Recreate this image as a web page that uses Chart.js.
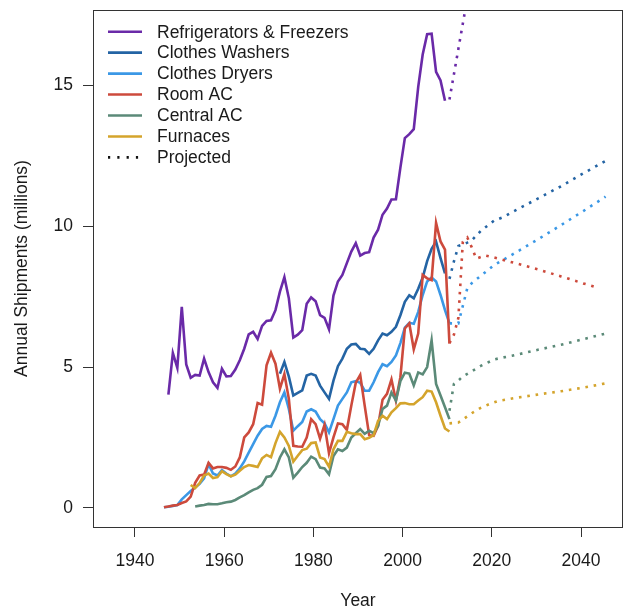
<!DOCTYPE html>
<html lang="en">
<head>
<meta charset="UTF-8">
<title>Appliance Shipments</title>
<script src="https://cdn.jsdelivr.net/npm/chart.js"></script>
<style>
  body { margin: 0; background: #fff; }
  #wrap { width: 624px; height: 614px; }
</style>
</head>
<body>
<div id="wrap"><canvas id="shipChart" width="624" height="614"></canvas></div>
<script>
// annual shipments in millions of units, one value per year from the start year
const refrigStart = 1947;
const refrig = [4.02, 5.5, 4.97, 7.14, 5.09, 4.62, 4.72, 4.7, 5.3, 4.82,
  4.46, 4.26, 4.94, 4.67, 4.68, 4.91, 5.24, 5.65, 6.16, 6.25,
  6.0, 6.46, 6.64, 6.66, 7.02, 7.68, 8.19, 7.44, 6.05, 6.15,
  6.31, 7.25, 7.47, 7.34, 6.84, 6.75, 6.34, 7.54, 8.04, 8.27,
  8.69, 9.1, 9.4, 8.96, 9.05, 9.08, 9.6, 9.88, 10.41, 10.63,
  10.95, 10.96, 12.08, 13.13, 13.27, 13.45, 14.95, 16.1, 16.82, 16.84,
  15.48, 15.18, 14.46];

const washersStart = 1972;
const washers = [4.76, 5.18, 4.66, 3.99, 4.08, 4.17, 4.7, 4.76, 4.7, 4.34,
  4.1, 3.87, 4.52, 5.03, 5.3, 5.65, 5.8, 5.82, 5.65, 5.63,
  5.47, 5.65, 5.95, 6.19, 6.13, 6.25, 6.43, 6.84, 7.32, 7.55,
  7.44, 7.78, 8.18, 8.76, 9.2, 9.45, 8.87, 8.33];

const dryersStart = 1946;
const dryers = [0.02, 0.04, 0.07, 0.1, 0.3, 0.45, 0.6, 0.72, 0.85, 1.05,
  1.55, 1.22, 1.15, 1.34, 1.22, 1.12, 1.22, 1.4, 1.65, 1.96,
  2.26, 2.56, 2.8, 2.91, 2.88, 3.27, 3.75, 4.1, 3.51, 2.74,
  2.9, 3.05, 3.42, 3.5, 3.42, 3.15, 3.0, 2.68, 3.15, 3.63,
  3.87, 4.1, 4.46, 4.5, 4.44, 4.16, 4.16, 4.46, 4.82, 5.1,
  5.03, 5.18, 5.41, 5.85, 6.4, 6.57, 6.54, 6.96, 7.56, 8.04,
  8.18, 8.04, 7.56, 7.02, 6.55];

const roomAcStart = 1946;
const roomAc = [0.02, 0.05, 0.08, 0.1, 0.17, 0.23, 0.4, 0.89, 1.15, 1.18,
  1.6, 1.4, 1.45, 1.45, 1.42, 1.35, 1.47, 1.79, 2.5, 2.68,
  2.97, 3.72, 3.66, 5.06, 5.51, 5.12, 4.23, 4.75, 3.87, 2.2,
  2.18, 2.17, 2.5, 3.15, 2.97, 2.46, 2.95, 1.94, 2.5, 3.0,
  2.97, 2.77, 3.63, 4.44, 4.72, 3.63, 2.58, 2.56, 2.91, 3.84,
  4.05, 4.56, 3.81, 4.64, 6.37, 6.55, 5.63, 6.19, 8.27, 8.15,
  8.09, 10.12, 9.46, 9.17, 5.83];

const centralAcStart = 1953;
const centralAc = [0.05, 0.08, 0.1, 0.14, 0.13, 0.13, 0.16, 0.2, 0.22, 0.28,
  0.37, 0.45, 0.55, 0.64, 0.7, 0.82, 1.1, 1.13, 1.37, 1.79,
  2.08, 1.79, 1.07, 1.25, 1.45, 1.6, 1.82, 1.73, 1.43, 1.4,
  1.19, 1.84, 2.08, 2.02, 2.14, 2.5, 2.65, 2.8, 2.63, 2.74,
  2.65, 2.91, 3.51, 3.63, 4.1, 3.81, 4.5, 4.8, 4.77, 4.35,
  4.81, 4.74, 5.0, 5.95, 4.4, 3.99, 3.57, 3.15];

const furnacesStart = 1952;
const furnaces = [0.81, 0.7, 0.88, 1.15, 1.22, 1.06, 1.09, 1.3, 1.2, 1.12,
  1.18, 1.32, 1.45, 1.52, 1.49, 1.45, 1.76, 1.88, 1.8, 2.3,
  2.7, 2.5, 2.2, 1.64, 1.85, 2.05, 2.1, 2.3, 2.32, 1.79,
  1.73, 1.46, 2.08, 2.38, 2.38, 2.7, 2.65, 2.62, 2.62, 2.44,
  2.49, 2.58, 3.09, 3.27, 3.15, 3.39, 3.54, 3.71, 3.72, 3.68,
  3.68, 3.81, 3.93, 4.16, 4.13, 3.75, 3.27, 2.82, 2.71];

// projections (dotted)
const refrigProjYears = [2010, 2011, 2012, 2013, 2014];
const refrigProj = [14.5, 15.4, 16.3, 17.2, 18.1];
const washersProjYears = [2010, 2011, 2012, 2014, 2015, 2017, 2020, 2022, 2025, 2030, 2035, 2040, 2045];
const washersProj = [8.13, 8.75, 9.3, 9.42, 9.5, 9.83, 10.2, 10.32, 10.58, 11.0, 11.42, 11.88, 12.32];
const dryersProjYears = [2010, 2012, 2014, 2015, 2020, 2022, 2025, 2030, 2035, 2040, 2045];
const dryersProj = [6.55, 6.55, 7.8, 7.98, 8.62, 8.8, 9.08, 9.55, 10.04, 10.54, 11.05];
const roomAcProjYears = [2010, 2011, 2012, 2013, 2014, 2015, 2016, 2018, 2020, 2025, 2030, 2035, 2040, 2043];
const roomAcProj = [5.85, 6.15, 6.75, 9.45, 9.6, 9.25, 8.85, 8.96, 8.89, 8.68, 8.46, 8.22, 7.97, 7.83];
const centralAcProjYears = [2010, 2011, 2012, 2013, 2015, 2017, 2020, 2022, 2024, 2030, 2035, 2040, 2045];
const centralAcProj = [3.45, 4.4, 4.52, 4.67, 4.85, 5.04, 5.27, 5.34, 5.4, 5.62, 5.79, 5.99, 6.19];
const furnacesProjYears = [2010, 2012, 2015, 2017, 2019, 2021, 2023, 2025, 2030, 2035, 2040, 2046];
const furnacesProj = [3.0, 3.03, 3.36, 3.55, 3.69, 3.8, 3.85, 3.91, 4.03, 4.14, 4.27, 4.45];

const seriesNames = ['Refrigerators & Freezers', 'Clothes Washers', 'Clothes Dryers', 'Room AC', 'Central AC', 'Furnaces'];
const projectedLabel = 'Projected';
const xTicks = [1940, 1960, 1980, 2000, 2020, 2040];
const yTicks = [0, 5, 10, 15];

const colors = ['#6a2aa8', '#2464a4', '#3b98e6', '#cd4a3c', '#5b8a78', '#d4a42c'];
const yearMid = 0.5; // yearly totals sit at mid-year on the time axis
const fontFamily = '"Liberation Sans", Arial, Helvetica, sans-serif';
const textColor = '#1a1a1a';

function history(start, values) {
  return values.map((v, i) => ({ x: start + i + yearMid, y: v }));
}
function projection(years, values) {
  return years.map((yr, i) => ({ x: yr + yearMid, y: values[i] }));
}

const solid = [
  history(refrigStart, refrig),
  history(washersStart, washers),
  history(dryersStart, dryers),
  history(roomAcStart, roomAc),
  history(centralAcStart, centralAc),
  history(furnacesStart, furnaces)
];
const dotted = [
  projection(refrigProjYears, refrigProj),
  projection(washersProjYears, washersProj),
  projection(dryersProjYears, dryersProj),
  projection(roomAcProjYears, roomAcProj),
  projection(centralAcProjYears, centralAcProj),
  projection(furnacesProjYears, furnacesProj)
];

// Chart.js puts dataset 0 on top, so list the last-drawn series first
const datasets = [];
for (let i = seriesNames.length - 1; i >= 0; i--) {
  datasets.push({
    label: seriesNames[i],
    data: solid[i],
    borderColor: colors[i],
    borderWidth: 2.6,
    pointRadius: 0,
    tension: 0,
    clip: 0
  });
  datasets.push({
    label: seriesNames[i] + ' (projected)',
    data: dotted[i],
    borderColor: colors[i],
    borderWidth: 2.6,
    borderDash: [2.6, 5.8],
    borderCapStyle: 'butt',
    pointRadius: 0,
    tension: 0,
    clip: 0
  });
}

const frame = {
  id: 'frame',
  afterDatasetsDraw(chart) {
    const a = chart.chartArea;
    const ctx = chart.ctx;
    ctx.save();
    ctx.strokeStyle = '#333';
    ctx.lineWidth = 1;
    ctx.strokeRect(a.left + 0.5, a.top + 0.5, a.right - a.left - 1, a.bottom - a.top);
    ctx.restore();
  }
};

const legendBox = {
  id: 'legendBox',
  afterDraw(chart) {
    const a = chart.chartArea;
    const ctx = chart.ctx;
    const labels = seriesNames.concat([projectedLabel]);
    ctx.save();
    ctx.font = '17.5px ' + fontFamily;
    ctx.textBaseline = 'middle';
    labels.forEach((label, i) => {
      const y = a.top + 21.7 + i * 20.95;
      ctx.beginPath();
      ctx.lineWidth = 2.6;
      if (i < seriesNames.length) {
        ctx.strokeStyle = colors[i];
        ctx.setLineDash([]);
      } else {
        ctx.strokeStyle = '#111';
        ctx.setLineDash([2.2, 7.1]);
      }
      ctx.moveTo(a.left + 15, y);
      ctx.lineTo(a.left + 49, y);
      ctx.stroke();
      ctx.setLineDash([]);
      ctx.fillStyle = textColor;
      ctx.fillText(label, a.left + 64, y + 1);
    });
    ctx.restore();
  }
};

new Chart(document.getElementById('shipChart'), {
  type: 'line',
  data: { datasets: datasets },
  options: {
    responsive: false,
    animation: false,
    devicePixelRatio: 1,
    layout: { padding: { top: 10, right: 1, left: 0, bottom: 0 } },
    plugins: {
      legend: { display: false },
      tooltip: { enabled: false }
    },
    scales: {
      x: {
        type: 'linear',
        min: 1930.6,
        max: 2049.4,
        afterBuildTicks: s => { s.ticks = xTicks.map(v => ({ value: v })); },
        afterFit: s => { s.height = 87; s.paddingLeft = 0; s.paddingRight = 0; },
        grid: { drawOnChartArea: false, drawTicks: true, tickLength: 10, tickColor: '#333' },
        border: { display: false },
        ticks: {
          padding: 14,
          color: textColor,
          font: { family: fontFamily, size: 17.5 },
          maxRotation: 0,
          callback: v => String(v)
        },
        title: {
          display: true,
          text: 'Year',
          color: textColor,
          font: { family: fontFamily, size: 17.5 },
          padding: { top: 0, bottom: 2 }
        }
      },
      y: {
        type: 'linear',
        min: -0.68,
        max: 17.68,
        afterBuildTicks: s => { s.ticks = yTicks.map(v => ({ value: v })); },
        afterFit: s => { s.width = 93; s.paddingTop = 0; s.paddingBottom = 0; },
        grid: { drawOnChartArea: false, drawTicks: true, tickLength: 10, tickColor: '#333' },
        border: { display: false },
        ticks: {
          padding: 10,
          color: textColor,
          font: { family: fontFamily, size: 17.5 },
          callback: v => String(v)
        },
        title: {
          display: true,
          text: 'Annual Shipments (millions)',
          color: textColor,
          font: { family: fontFamily, size: 17.5 },
          padding: { top: 11.5, bottom: 0 }
        }
      }
    }
  },
  plugins: [frame, legendBox]
});
</script>
</body>
</html>
